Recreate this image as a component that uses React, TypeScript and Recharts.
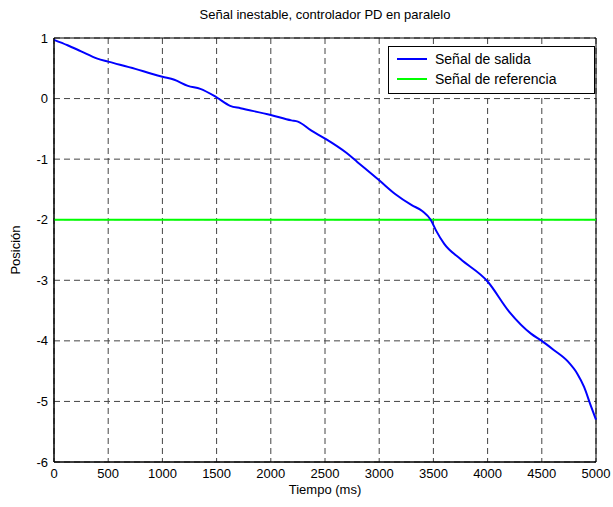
import {
  CartesianGrid,
  Line,
  LineChart,
  ReferenceArea,
  ReferenceLine,
  XAxis,
  YAxis,
} from "recharts";

// Sampled from the plot: time (ms) and output position
const tiempo = [
  0, 125, 250, 400, 500, 750, 900, 1000, 1110, 1235, 1350, 1500, 1625, 1720,
  2000, 2190, 2250, 2375, 2500, 2700, 2800, 3000, 3150, 3300, 3400, 3475, 3525,
  3600, 3750, 4000, 4200, 4400, 4500, 4610, 4740, 4830, 4890, 4950, 5000,
];
const salida = [
  0.97, 0.88, 0.78, 0.66, 0.61, 0.49, 0.41, 0.36, 0.31, 0.21, 0.16, 0.02,
  -0.12, -0.16, -0.27, -0.36, -0.38, -0.53, -0.66, -0.9, -1.05, -1.35, -1.58,
  -1.76, -1.86, -2.0, -2.18, -2.4, -2.65, -3.02, -3.52, -3.88, -4.0, -4.15,
  -4.34, -4.55, -4.76, -5.06, -5.3,
];
const referencia = -2;

const xTicks = [0, 500, 1000, 1500, 2000, 2500, 3000, 3500, 4000, 4500, 5000];
const yTicks = [-6, -5, -4, -3, -2, -1, 0, 1];

const legendItems = [
  { name: "Señal de salida", color: "#0000ff" },
  { name: "Señal de referencia", color: "#00ff00" },
];

const data = tiempo.map((t, i) => ({ t, salida: salida[i] }));

const font = "'Liberation Sans', Arial, sans-serif";
const tickStyle = { fontSize: 13, fill: "#000", fontFamily: font };

function LegendBox() {
  return (
    <div
      style={{
        position: "absolute",
        top: 46,
        left: 388,
        width: 197,
        height: 44,
        border: "1px solid #000",
        background: "#fff",
        padding: "2px 0 0 8px",
        boxSizing: "content-box",
        fontFamily: font,
        fontSize: 14,
        lineHeight: "20px",
      }}
    >
      {legendItems.map((it) => (
        <div key={it.name} style={{ display: "flex", alignItems: "center" }}>
          <span
            style={{
              display: "inline-block",
              width: 30,
              height: 2,
              background: it.color,
              marginRight: 8,
            }}
          />
          <span>{it.name}</span>
        </div>
      ))}
    </div>
  );
}

export default function App() {
  return (
    <div style={{ position: "relative", width: 613, height: 507, background: "#fff" }}>
      <style>{"body{margin:0}"}</style>
      <div
        style={{
          position: "absolute",
          top: 7,
          left: 54,
          width: 542,
          textAlign: "center",
          fontFamily: font,
          fontSize: 13,
          zIndex: 2,
        }}
      >
        Señal inestable, controlador PD en paralelo
      </div>
      <LineChart
        width={613}
        height={507}
        data={data}
        margin={{ top: 38, right: 17, left: 0, bottom: 0 }}
      >
        <CartesianGrid stroke="#444" strokeDasharray="6 4" />
        <XAxis
          dataKey="t"
          type="number"
          domain={[0, 5000]}
          ticks={xTicks}
          interval={0}
          height={45}
          tickSize={0}
          tickMargin={7}
          axisLine={{ stroke: "#000" }}
          tick={tickStyle}
          label={{
            content: () => (
              <text
                x={325}
                y={494}
                textAnchor="middle"
                fontFamily={font}
                fontSize={13}
                fill="#000"
              >
                Tiempo (ms)
              </text>
            ),
          }}
        />
        <YAxis
          type="number"
          domain={[-6, 1]}
          ticks={yTicks}
          interval={0}
          width={54}
          tickSize={0}
          tickMargin={6}
          axisLine={{ stroke: "#000" }}
          tick={tickStyle}
          label={{
            content: () => (
              <text
                x={20}
                y={250}
                transform="rotate(-90 20 250)"
                textAnchor="middle"
                fontFamily={font}
                fontSize={13}
                fill="#000"
              >
                Posición
              </text>
            ),
          }}
        />
        <ReferenceLine y={referencia} stroke="#00ff00" strokeWidth={2} />
        <Line
          type="monotone"
          dataKey="salida"
          stroke="#0000ff"
          strokeWidth={2}
          dot={false}
          isAnimationActive={false}
        />
        <ReferenceArea
          x1={0}
          x2={5000}
          y1={-6}
          y2={1}
          stroke="#000"
          strokeWidth={1}
          fill="none"
          fillOpacity={0}
          ifOverflow="visible"
        />
      </LineChart>
      <LegendBox />
    </div>
  );
}
